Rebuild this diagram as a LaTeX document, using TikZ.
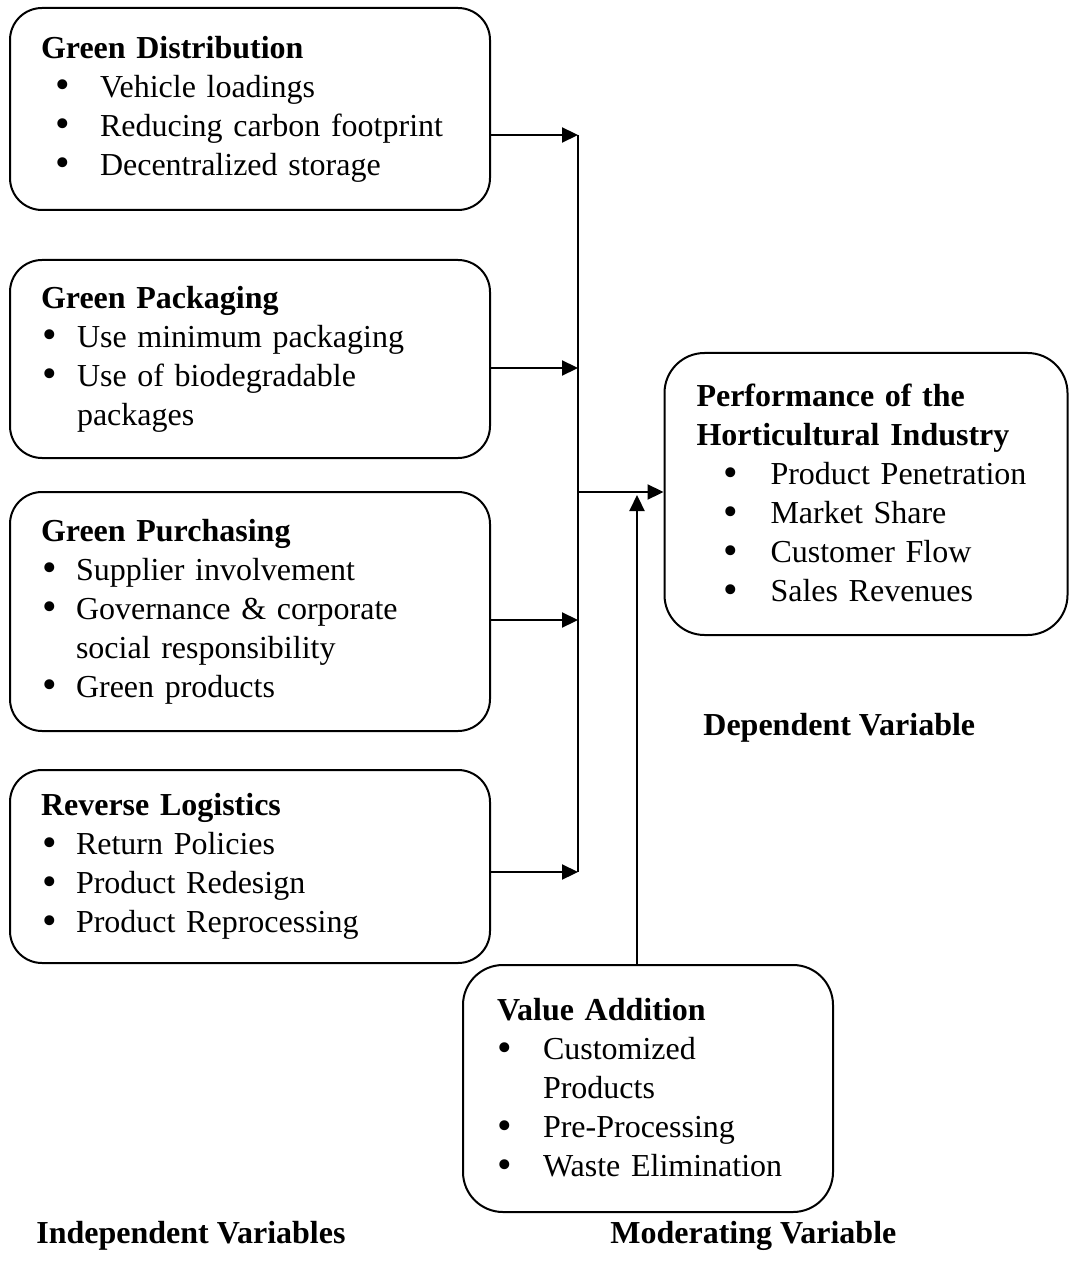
\documentclass[tikz,border=0pt]{standalone}
\usepackage{fontspec}
\usepackage{graphicx}
\setmainfont{Liberation Serif}
\usetikzlibrary{arrows.meta}

% bullet line: bullet offset, text offset, text
\newcommand{\itm}[3]{\hspace*{#1}\makebox[\dimexpr#2-#1\relax][l]{\raisebox{-0.8pt}{\scalebox{1.3}{\textbullet}}}#3}

\begin{document}
\begin{tikzpicture}[x=0.5pt, y=-0.5pt, font=\fontsize{16pt}{19.5pt}\selectfont,
  box/.style={draw, line width=1pt, rounded corners=16pt, align=left,
    inner xsep=15.5pt, text width=209pt, minimum height=#1},
  arr/.style={line width=1.1pt, -{Triangle[length=8pt, width=7.5pt]}},
  lbl/.style={font=\fontsize{16pt}{19.5pt}\selectfont\bfseries, inner sep=0pt, anchor=base west}]
\useasboundingbox (0,0) rectangle (1069,1261);

% independent variables
\node[box=101pt] (gd) at (250,109) {\textbf{Green Distribution}\\
  \itm{7pt}{29.5pt}{Vehicle loadings}\\
  \itm{7pt}{29.5pt}{Reducing carbon footprint}\\
  \itm{7pt}{29.5pt}{Decentralized storage}};
\node[box=99pt] (gp) at (250,359) {\textbf{Green Packaging}\\
  \itm{0.5pt}{18pt}{Use minimum packaging}\\
  \itm{0.5pt}{18pt}{Use of biodegradable}\\
  \hspace*{18pt}packages};
\node[box=119.5pt] (gpu) at (250,611.5) {\textbf{Green Purchasing}\\
  \itm{0.5pt}{17.5pt}{Supplier involvement}\\
  \itm{0.5pt}{17.5pt}{Governance \& corporate}\\
  \hspace*{17.5pt}social responsibility\\
  \itm{0.5pt}{17.5pt}{Green products}};
\node[box=96.5pt] (rl) at (250,866.5) {\textbf{Reverse Logistics}\\
  \itm{0.5pt}{17.5pt}{Return Policies}\\
  \itm{0.5pt}{17.5pt}{Product Redesign}\\
  \itm{0.5pt}{17.5pt}{Product Reprocessing}};

% dependent and moderating
\node[box=141pt, rounded corners=20pt, inner xsep=16pt, text width=169.5pt] (perf) at (866,494)
  {\textbf{Performance of the}\\ \textbf{Horticultural Industry}\\
  \itm{13.5pt}{37pt}{Product Penetration}\\
  \itm{13.5pt}{37pt}{Market Share}\\
  \itm{13.5pt}{37pt}{Customer Flow}\\
  \itm{13.5pt}{37pt}{Sales Revenues}};
\node[box=123.5pt, rounded corners=20pt, inner xsep=17pt, text width=151pt] (va) at (648,1088.5)
  {\textbf{Value Addition}\\
  \itm{0pt}{23pt}{Customized}\\
  \hspace*{23pt}Products\\
  \itm{0pt}{23pt}{Pre-Processing}\\
  \itm{0pt}{23pt}{Waste Elimination}};

% connectors
\coordinate (jtop) at (578,135);
\coordinate (jbot) at (578,872);
\draw[line width=1.1pt] (jtop) -- (jbot);
\foreach \b/\y in {gd/135, gp/368, gpu/620, rl/872}{
  \coordinate (in\b) at (578,\y);
  \draw[arr] (\b.east |- in\b) -- (in\b);}
\coordinate (jmid) at (578,492);
\draw[arr] (jmid) -- (perf.west |- jmid);
\coordinate (mod) at (637,495);
\draw[arr] (va.north -| mod) -- (mod);

% captions
\node[lbl] (dep) at (703,735) {Dependent Variable};
\node[lbl] (ind) at (36,1243) {Independent Variables};
\node[lbl] (modl) at (610,1243) {Moderating Variable};
\end{tikzpicture}
\end{document}
